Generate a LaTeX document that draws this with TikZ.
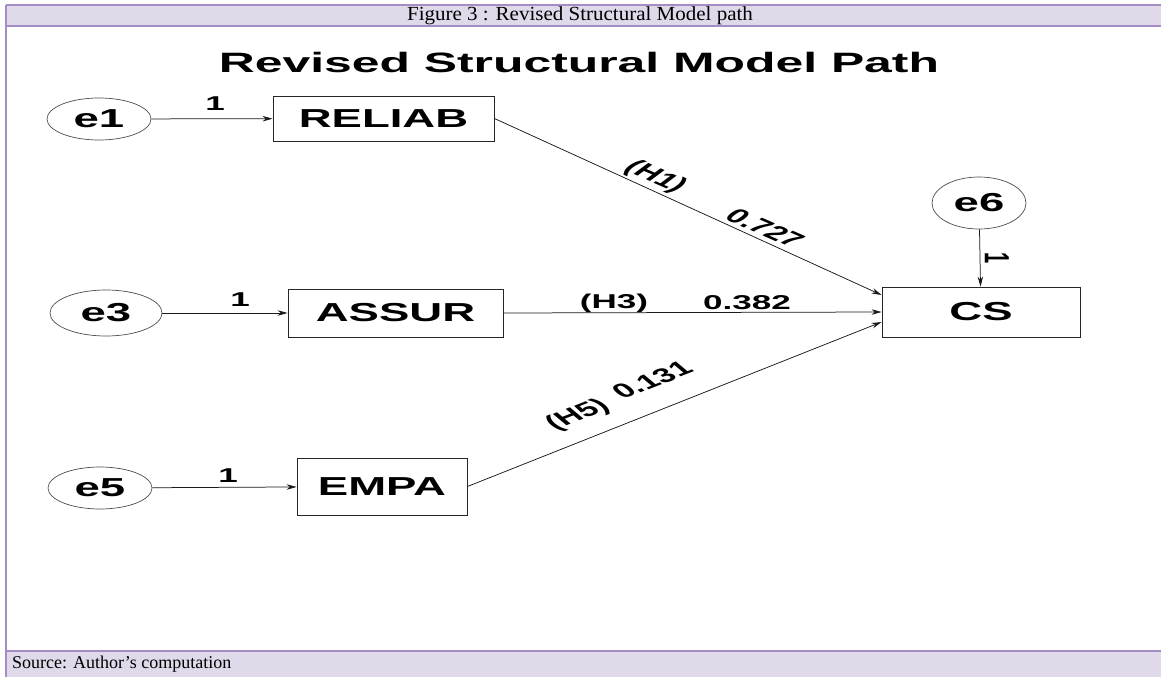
\documentclass[tikz,border=0pt]{standalone}
\usepackage{fontspec}
\setmainfont{Liberation Serif}
\newfontfamily\arialfam{Liberation Sans}
\usetikzlibrary{arrows.meta,shapes.geometric}
\newcommand\wtxt[2][1.75]{\scalebox{#1}[1]{#2}}
\newcommand\rtxt[2]{\scalebox{1.75}[1]{\rotatebox{#1}{#2}}}
\definecolor{bandfill}{HTML}{DFD9EA}
\definecolor{bandline}{HTML}{A48DC4}
\tikzset{
  obsbox/.style={draw=black!85, line width=0.9pt, inner sep=0pt, font=\arialfam\bfseries\fontsize{26}{26}\selectfont},
  latent/.style={ellipse, draw=black!70, line width=0.7pt, inner sep=0pt, font=\arialfam\bfseries\fontsize{26}{26}\selectfont},
  lbl/.style={inner sep=0pt, font=\arialfam\bfseries\fontsize{20}{20}\selectfont},
  conn/.style={line width=0.75pt, draw=black!90, -{Stealth[length=10pt,width=5.5pt]}},
  captxt/.style={inner sep=0pt, font=\fontsize{18}{18}\selectfont}
}
\begin{document}
\begin{tikzpicture}[x=1pt,y=-1pt]
\useasboundingbox (0,0) rectangle (1161,677);
% frame
\fill[bandfill] (6,5) rectangle (1161,26);
\fill[bandfill] (6,651) rectangle (1161,677);
\draw[bandline, line width=2pt] (6,5) -- (1161,5);
\draw[bandline, line width=2pt] (6,26) -- (1161,26);
\draw[bandline, line width=1.5pt] (6,651) -- (1161,651);
\draw[bandline, line width=1.8pt] (6,5) -- (6,677);
\node[inner sep=0pt, font=\fontsize{20}{20}\selectfont] (cap) at (580,15.5) {\wtxt[1.05]{Figure 3 : Revised Structural Model path}};
\node[captxt, anchor=west] (src) at (12,664) {Source: Author’s computation};
% title
\node[inner sep=0pt, font=\arialfam\bfseries\fontsize{28}{28}\selectfont] (title) at (579,62) {\wtxt[1.78]{Revised Structural Model Path}};
% nodes
\node[latent, minimum width=104pt, minimum height=42pt] (e1) at (99,119) {\wtxt{e1}};
\node[obsbox, minimum width=221pt, minimum height=45pt] (rel) at (383.5,118.5) {\wtxt{RELIAB}};
\node[latent, minimum width=112pt, minimum height=46pt] (e3) at (106,313) {\wtxt{e3}};
\node[obsbox, minimum width=215pt, minimum height=48pt] (ass) at (395.5,313) {\wtxt{ASSUR}};
\node[latent, minimum width=104pt, minimum height=42pt] (e5) at (100,488) {\wtxt{e5}};
\node[obsbox, minimum width=170pt, minimum height=57pt] (emp) at (382,486.5) {\wtxt{EMPA}};
\node[obsbox, minimum width=198pt, minimum height=50pt] (cs) at (981,312) {\wtxt{CS}};
\node[latent, minimum width=94pt, minimum height=52pt] (e6) at (979,203) {\wtxt{e6}};
% connectors
\draw[conn] (e1) -- (rel);
\draw[conn] (e3) -- (ass);
\draw[conn] (e5) -- (emp);
\draw[conn] (e6) -- (cs);
\draw[conn] (rel.east) -- ([yshift=17pt]cs.west);
\draw[conn] (ass.east) -- (cs.west);
\draw[conn] (emp.east) -- ([yshift=-10pt]cs.west);
% labels
\node[lbl] (l1) at (215,104) {\wtxt{1}};
\node[lbl] (l3) at (240,300) {\wtxt{1}};
\node[lbl] (l5) at (228,476) {\wtxt{1}};
\node[lbl] (l6) at (997,258) {\rtxt{-90}{1}};
\node[lbl] (h1) at (655,177) {\rtxt{-37.5}{(H1)}};
\node[lbl] (v1) at (765,228) {\rtxt{-37.5}{0.727}};
\node[lbl] (h3) at (614,303) {\wtxt{(H3)}};
\node[lbl] (v3) at (747,303) {\wtxt{0.382}};
\node[lbl] (h5) at (578,415) {\rtxt{34.4}{(H5)}};
\node[lbl] (v5) at (652,380) {\rtxt{34.4}{0.131}};
\end{tikzpicture}
\end{document}
